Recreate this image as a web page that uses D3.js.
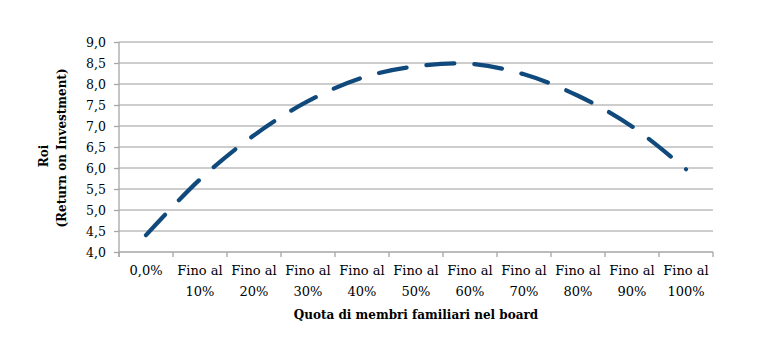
<!DOCTYPE html>
<html>
<head>
<meta charset="utf-8">
<script src="https://cdn.jsdelivr.net/npm/d3@7"></script>
<style>
  body { margin: 0; background: #fff; }
  svg text { font-family: "DejaVu Serif", serif; fill: #000; }
</style>
</head>
<body>
<div id="chart"></div>
<script>
const categories = ["0,0%", "Fino al 10%", "Fino al 20%", "Fino al 30%", "Fino al 40%", "Fino al 50%",
                    "Fino al 60%", "Fino al 70%", "Fino al 80%", "Fino al 90%", "Fino al 100%"];
const roiValues = [4.4, 5.73, 6.78, 7.59, 8.15, 8.42, 8.48, 8.23, 7.72, 6.99, 5.97];
const yTicks = [4.0, 4.5, 5.0, 5.5, 6.0, 6.5, 7.0, 7.5, 8.0, 8.5, 9.0];

const width = 762, height = 347;
const plotLeft = 119, plotRight = 713, plotTop = 42, plotBottom = 252;

let svg = d3.select("#chart")
    .append("svg")
    .attr("width", width)
    .attr("height", height);

let x = d3.scaleBand()
    .domain(categories)
    .range([plotLeft, plotRight]);

let y = d3.scaleLinear()
    .domain([4, 9])
    .range([plotBottom, plotTop]);

const fmt = d => d3.format(".1f")(d).replace(".", ",");

// horizontal gridlines
svg.append("g")
    .selectAll("line")
    .data(yTicks.filter(d => d > 4))
    .enter()
    .append("line")
    .attr("x1", plotLeft)
    .attr("x2", plotRight)
    .attr("y1", d => y(d))
    .attr("y2", d => y(d))
    .attr("stroke", "#bcbcbc")
    .attr("stroke-width", 1.3);

// y axis
let yAxis = svg.append("g")
    .attr("transform", `translate(${plotLeft},0)`)
    .call(d3.axisLeft(y).tickValues(yTicks).tickFormat(fmt).tickSize(5).tickPadding(8));
yAxis.selectAll("path, line").attr("stroke", "#a6a6a6").attr("stroke-width", 1.3);
yAxis.select(".domain").attr("d", `M0,${plotTop}V${plotBottom + 5}`);
yAxis.selectAll("text")
    .style("font-family", "DejaVu Serif")
    .style("font-size", "12.5px")
    .attr("fill", "#000");

// x axis line + ticks at band edges
let xAxis = svg.append("g");
xAxis.append("line")
    .attr("x1", plotLeft).attr("x2", plotRight)
    .attr("y1", plotBottom).attr("y2", plotBottom)
    .attr("stroke", "#a6a6a6").attr("stroke-width", 1.3);
xAxis.selectAll(".xt")
    .data(categories.map(c => x(c)).concat([plotRight]))
    .enter()
    .append("line")
    .attr("x1", d => d).attr("x2", d => d)
    .attr("y1", plotBottom).attr("y2", plotBottom + 5)
    .attr("stroke", "#a6a6a6").attr("stroke-width", 1.3);

// category labels (two lines)
let labels = xAxis.selectAll(".xl")
    .data(categories)
    .enter()
    .append("text")
    .attr("text-anchor", "middle")
    .style("font-size", "13px");
labels.each(function(c) {
    const parts = c.split(/ (?=\d)/);
    const t = d3.select(this);
    parts.forEach((p, i) => {
        t.append("tspan")
            .attr("x", x(c) + x.bandwidth() / 2)
            .attr("y", 275 + i * 21)
            .text(p);
    });
});

// axis titles
svg.append("text")
    .attr("x", (plotLeft + plotRight) / 2)
    .attr("y", 319)
    .attr("text-anchor", "middle")
    .style("font-size", "12px")
    .style("font-weight", "bold")
    .text("Quota di membri familiari nel board");

svg.append("text")
    .attr("transform", "translate(48,156) rotate(-90)")
    .attr("text-anchor", "middle")
    .style("font-size", "12px")
    .style("font-weight", "bold")
    .text("Roi");
svg.append("text")
    .attr("transform", "translate(66,148) rotate(-90)")
    .attr("text-anchor", "middle")
    .style("font-size", "12px")
    .style("font-weight", "bold")
    .text("(Return on Investment)");

// the ROI line
const line = d3.line()
    .x((d, i) => x(categories[i]) + x.bandwidth() / 2)
    .y(d => y(d))
    .curve(d3.curveCatmullRom);

svg.append("path")
    .datum(roiValues)
    .attr("d", line)
    .attr("fill", "none")
    .attr("stroke", "#104a7d")
    .attr("stroke-width", 4.2)
    .attr("stroke-linecap", "round")
    .attr("stroke-dasharray", "28,20");
</script>
</body>
</html>
